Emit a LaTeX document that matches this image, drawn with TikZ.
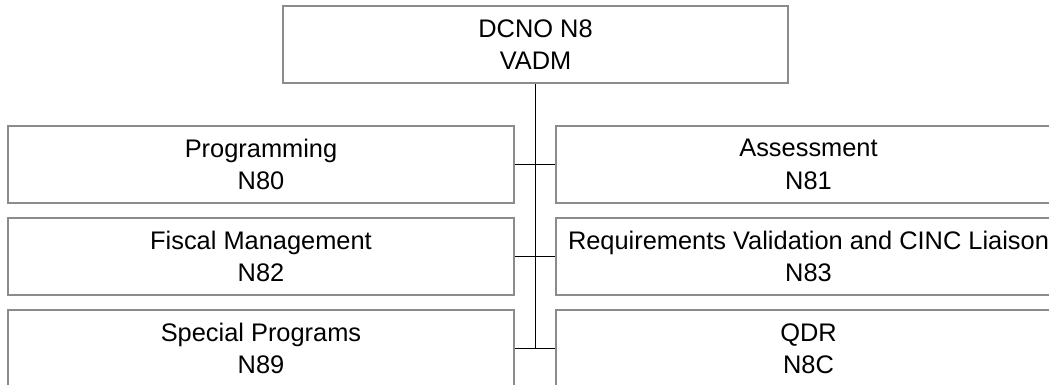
\documentclass[tikz,border=0pt]{standalone}
\usepackage{fontspec}
\setmainfont{Liberation Sans}
\definecolor{boxgray}{RGB}{140,140,140}
\tikzset{
  orgbox/.style={draw=boxgray, line width=0.9pt, fill=white, inner sep=0pt,
    minimum width=252.75pt, minimum height=38.5pt, align=center,
    font=\fontsize{12.7}{16.15}\selectfont},
  link/.style={draw=black, line width=0.9pt}
}
\begin{document}
\begin{tikzpicture}[x=0.5pt,y=-0.5pt]
\useasboundingbox (0,0) rectangle (1049,385);
\clip (0,0) rectangle (1049,385);
\fill[white] (0,0) rectangle (1049,385);
\node[orgbox] (top) at (535.5,44.5) {DCNO N8\\VADM};
\node[orgbox] (l1) at (261,164.5) {Programming\\N80};
\node[orgbox] (r1) at (808.5,164.5) {Assessment\\N81};
\node[orgbox] (l2) at (261,256.5) {Fiscal Management\\N82};
\node[orgbox] (r2) at (808.5,256.5) {Requirements Validation and CINC Liaison\\N83};
\node[orgbox] (l3) at (261,348.5) {Special Programs\\N89};
\node[orgbox] (r3) at (808.5,348.5) {QDR\\N8C};
\draw[link] (top.south) -- (top.south |- l3.east);
\draw[link] (l1.east) -- (r1.west);
\draw[link] (l2.east) -- (r2.west);
\draw[link] (l3.east) -- (r3.west);
\end{tikzpicture}
\end{document}
